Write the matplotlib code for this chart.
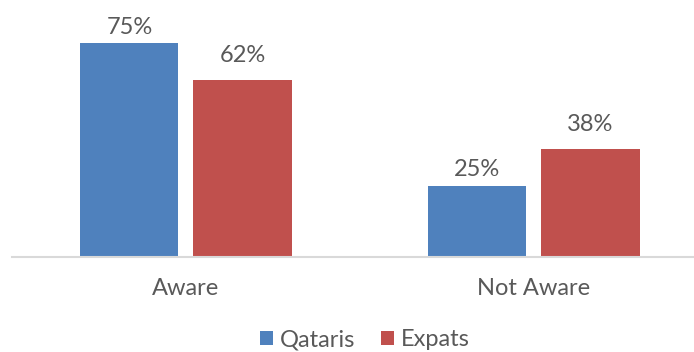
import matplotlib.pyplot as plt
import numpy as np

categories = ['Aware', 'Not Aware']
series = ['Qataris', 'Expats']
qataris = [75, 25]
expats = [62, 38]
colors = ['#4F81BD', '#C0504D']
text_color = '#595959'

plt.rcParams['font.family'] = ['Lato', 'DejaVu Sans']

fig = plt.figure(figsize=(6.94, 3.52), dpi=100)
ax = fig.add_axes([12 / 694, 95 / 352, 682 / 694, 228 / 352])

ind = np.arange(len(categories))
width = 0.282
offset = 0.1625
# value labels sit a bit higher over the Expats bars
for vals, name, col, sign, pad in zip([qataris, expats], series, colors,
                                      [-1, 1], [4, 10]):
    bars = ax.bar(ind + sign * offset, vals, width, color=col, label=name)
    ax.bar_label(bars, labels=['%d%%' % v for v in vals], padding=pad,
                 fontsize=17, color=text_color)

ax.set_xlim(-0.5, 1.46)
ax.set_ylim(0, 80)
ax.set_xticks(ind)
ax.set_xticklabels(categories, fontsize=17, color=text_color)
ax.tick_params(axis='x', length=0, pad=15)
ax.set_yticks([])
for s in ['top', 'right', 'left']:
    ax.spines[s].set_visible(False)
ax.spines['bottom'].set_color('#D9D9D9')
ax.spines['bottom'].set_linewidth(1.5)

leg = fig.legend(loc='center', bbox_to_anchor=(365 / 694, 1 - 340 / 352),
                 ncol=2, frameon=False, fontsize=17, handlelength=0.55,
                 handleheight=0.55, handletextpad=0.3, columnspacing=1.1,
                 borderaxespad=0)
for t in leg.get_texts():
    t.set_color(text_color)

fig.savefig('out.png', dpi=100)
